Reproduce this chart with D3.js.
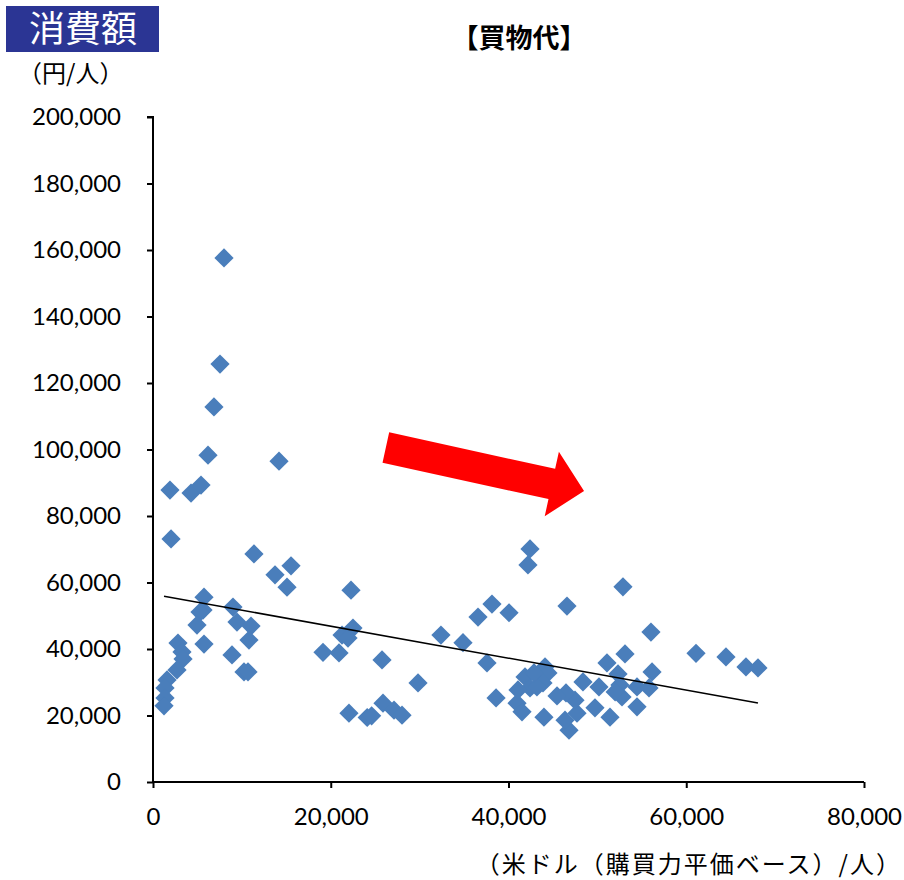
<!DOCTYPE html>
<html>
<head>
<meta charset="utf-8">
<script src="https://cdn.jsdelivr.net/npm/d3@7/dist/d3.min.js"></script>
<style>
  html, body { margin: 0; padding: 0; background: #fff; }
  svg { display: block; }
  .num { font-family: Lato, "Liberation Sans", sans-serif; font-size: 24px; fill: #000; }
  .jp { font-family: "Noto Sans CJK JP", sans-serif; fill: #000; }
</style>
</head>
<body>
<svg id="chart" width="904" height="880"></svg>
<script>
// Income per person (USD, PPP basis)
const incomeUSD = [
  7990, 7540, 6860, 6190, 14180, 1910, 4280, 5400, 2030, 11360,
  13730, 15530, 15080, 5740, 5630, 5290, 4950, 5740, 9000, 9450,
  11030, 10800, 8890, 10240, 10690, 2810, 3260, 3380, 2700, 1580,
  1350, 1350, 1240,
  22280, 22500, 21270, 21940, 19130, 20930, 25770, 29820, 22050, 24100,
  24600, 25880, 27120, 28020, 32400, 34880, 36570, 38140, 37580, 38600,
  40060, 42420, 42190, 46580, 52880, 56030, 53110, 51080, 52320, 56150,
  48380, 50180, 54460, 55810, 52540, 52770, 54460, 51420, 49730, 43990,
  46810, 46360, 47710, 47480, 46470, 45460, 40960, 41520, 44110, 41860,
  42420, 41070, 43540, 44440, 43880, 43200, 42870, 52000, 61100, 64470,
  66720, 68070
];
// Shopping spend per person (JPY)
const shoppingYen = [
  157600, 125700, 112800, 98300, 96500, 87800, 86900, 89300, 73100, 68600,
  62300, 65000, 58600, 55600, 51700, 51100, 47200, 41500, 52600, 48100,
  46900, 42700, 38200, 33100, 33100, 41800, 39100, 37000, 33700, 30700,
  28300, 25300, 22900,
  57700, 46300, 44200, 43300, 39000, 38800, 36700, 29800, 20700, 19400,
  19900, 23700, 21600, 20100, 44200, 41900, 49600, 53500, 35800, 25300,
  50900, 70100, 65300, 52900, 58700, 45100, 38500, 35800, 32500, 33100,
  30100, 28600, 28600, 28300, 29200, 25600, 22600, 19500, 22300, 19500,
  15600, 18600, 20700, 24600, 26800, 25900, 23700, 21100, 34600, 31600,
  28300, 27700, 31300, 32800, 29800, 28600, 32800, 27100, 38700, 37600,
  34600, 34300
];

// Linear trend: [intercept (yen), slope (yen per USD)]
const trendCoef = [56480, -0.4807];

const xTicks = [0, 20000, 40000, 60000, 80000];
const yTicks = [0, 20000, 40000, 60000, 80000, 100000, 120000, 140000, 160000, 180000, 200000];

// Decorative arrow showing the downward tendency (data coordinates)
const arrowFrom = [26200, 100600];
const arrowTo = [48500, 87500];

const svg = d3.select("#chart");
const x = d3.scaleLinear().domain([0, 80000]).range([153, 864]);
const y = d3.scaleLinear().domain([0, 200000]).range([782, 117]);
const fmt = d3.format(",");

// Header badge
svg.append("rect").attr("x", 6).attr("y", 6).attr("width", 153).attr("height", 46).attr("fill", "#2B3594");
svg.append("text").attr("class", "jp").attr("x", 83).attr("y", 42)
  .attr("text-anchor", "middle").attr("font-size", 36).style("fill", "#fff")
  .text("消費額");
svg.append("text").attr("class", "jp").attr("x", 18).attr("y", 82).attr("font-size", 24).text("（円/人）");
svg.append("text").attr("class", "jp").attr("x", 519).attr("y", 48)
  .attr("text-anchor", "middle").attr("font-size", 27).attr("font-weight", "bold").text("【買物代】");

// Y axis
const yAxis = d3.axisLeft(y).tickValues(yTicks).tickFormat(fmt).tickSize(6).tickPadding(26);
const gy = svg.append("g").attr("transform", `translate(${x(0)},0)`).call(yAxis);
gy.select(".domain").attr("stroke", "#000").attr("stroke-width", 2).attr("d", `M-6,${y(200000)}H0V${y(0)}`);
gy.selectAll(".tick line").attr("stroke", "#000").attr("stroke-width", 2);
gy.selectAll(".tick text").attr("class", "num").attr("font-family", null).attr("font-size", null);

// X axis
const xAxis = d3.axisBottom(x).tickValues(xTicks).tickFormat(fmt).tickSize(6).tickPadding(20);
const gx = svg.append("g").attr("transform", `translate(0,${y(0)})`).call(xAxis);
gx.select(".domain").attr("stroke", "#000").attr("stroke-width", 2).attr("d", `M${x(0)},0H${x(80000)}`);
gx.selectAll(".tick line").attr("stroke", "#000").attr("stroke-width", 2);
gx.selectAll(".tick text").attr("class", "num").attr("font-family", null).attr("font-size", null);

svg.append("text").attr("class", "jp").attr("x", 902).attr("y", 873)
  .attr("text-anchor", "end").attr("font-size", 24).attr("letter-spacing", 2)
  .text("（米ドル（購買力平価ベース）/人）");

// Points
const pts = incomeUSD.map((v, i) => [v, shoppingYen[i]]);
svg.append("g").selectAll("path").data(pts).join("path")
  .attr("d", d3.symbol().type(d3.symbolSquare).size(185))
  .attr("transform", d => `translate(${x(d[0])},${y(d[1])}) rotate(45)`)
  .attr("fill", "#4A7EBB");

// Trend line over the data's x range
const x0 = d3.min(incomeUSD), x1 = d3.max(incomeUSD);
const trend = v => trendCoef[0] + trendCoef[1] * v;
svg.append("line")
  .attr("x1", x(x0)).attr("y1", y(trend(x0)))
  .attr("x2", x(x1)).attr("y2", y(trend(x1)))
  .attr("stroke", "#000").attr("stroke-width", 1.5);

// Arrow
const p0 = [x(arrowFrom[0]), y(arrowFrom[1])], p1 = [x(arrowTo[0]), y(arrowTo[1])];
const len = Math.hypot(p1[0] - p0[0], p1[1] - p0[1]);
const ang = Math.atan2(p1[1] - p0[1], p1[0] - p0[0]) * 180 / Math.PI;
const sw = 15.5, hw = 33, hl = 33;
const poly = [[0, -sw], [len - hl, -sw], [len - hl, -hw], [len, 0], [len - hl, hw], [len - hl, sw], [0, sw]];
svg.append("path")
  .attr("d", d3.line()(poly) + "Z")
  .attr("transform", `translate(${p0[0]},${p0[1]}) rotate(${ang})`)
  .attr("fill", "#FF0000");
</script>
</body>
</html>
